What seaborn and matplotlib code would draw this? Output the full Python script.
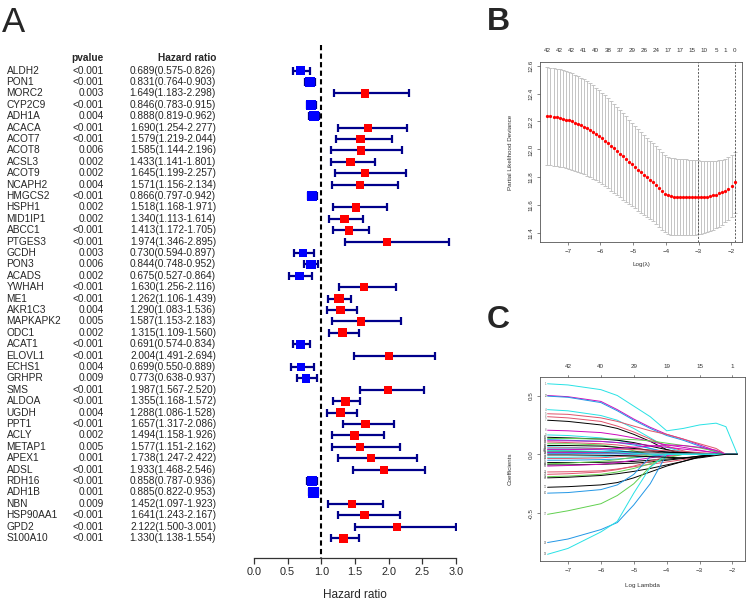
import numpy as np
import pandas as pd
import matplotlib
matplotlib.use("Agg")
import matplotlib.pyplot as plt
import matplotlib.transforms as mtrans
import seaborn as sns

sns.set_theme(style="white")
plt.rcParams['font.family'] = ['Liberation Sans', 'DejaVu Sans']

# ---------------- Panel A data ----------------
genes = ["ALDH2", "PON1", "MORC2", "CYP2C9", "ADH1A", "ACACA", "ACOT7", "ACOT8", "ACSL3", "ACOT9",
         "NCAPH2", "HMGCS2", "HSPH1", "MID1IP1", "ABCC1", "PTGES3", "GCDH", "PON3", "ACADS", "YWHAH",
         "ME1", "AKR1C3", "MAPKAPK2", "ODC1", "ACAT1", "ELOVL1", "ECHS1", "GRHPR", "SMS", "ALDOA",
         "UGDH", "PPT1", "ACLY", "METAP1", "APEX1", "ADSL", "RDH16", "ADH1B", "NBN", "HSP90AA1",
         "GPD2", "S100A10"]
pvals = ["<0.001", "<0.001", "0.003", "<0.001", "0.004", "<0.001", "<0.001", "0.006", "0.002", "0.002",
         "0.004", "<0.001", "0.002", "0.002", "<0.001", "<0.001", "0.003", "0.006", "0.002", "<0.001",
         "<0.001", "0.004", "0.005", "0.002", "<0.001", "<0.001", "0.004", "0.009", "<0.001", "<0.001",
         "0.004", "<0.001", "0.002", "0.005", "0.001", "<0.001", "<0.001", "0.001", "0.009", "<0.001",
         "<0.001", "<0.001"]
hr = [0.689, 0.831, 1.649, 0.846, 0.888, 1.690, 1.579, 1.585, 1.433, 1.645,
      1.571, 0.866, 1.518, 1.340, 1.413, 1.974, 0.730, 0.844, 0.675, 1.630,
      1.262, 1.290, 1.587, 1.315, 0.691, 2.004, 0.699, 0.773, 1.987, 1.355,
      1.288, 1.657, 1.494, 1.577, 1.738, 1.933, 0.858, 0.885, 1.452, 1.641,
      2.122, 1.330]
hr_lo = [0.575, 0.764, 1.183, 0.783, 0.819, 1.254, 1.219, 1.144, 1.141, 1.199,
         1.156, 0.797, 1.168, 1.113, 1.172, 1.346, 0.594, 0.748, 0.527, 1.256,
         1.106, 1.083, 1.153, 1.109, 0.574, 1.491, 0.550, 0.638, 1.567, 1.168,
         1.086, 1.317, 1.158, 1.151, 1.247, 1.468, 0.787, 0.822, 1.097, 1.243,
         1.500, 1.138]
hr_hi = [0.826, 0.903, 2.298, 0.915, 0.962, 2.277, 2.044, 2.196, 1.801, 2.257,
         2.134, 0.942, 1.971, 1.614, 1.705, 2.895, 0.897, 0.952, 0.864, 2.116,
         1.439, 1.536, 2.183, 1.560, 0.834, 2.694, 0.889, 0.937, 2.520, 1.572,
         1.528, 2.086, 1.926, 2.162, 2.422, 2.546, 0.936, 0.953, 1.923, 2.167,
         3.001, 1.554]
hr_ticks = [0.0, 0.5, 1.0, 1.5, 2.0, 2.5, 3.0]

# ---------------- Panel B data (cross-validation curve) ----------------
cv_loglam = [-7.620, -7.528, -7.435, -7.343, -7.251, -7.159, -7.066, -6.974, -6.882, -6.790,
             -6.697, -6.605, -6.513, -6.421, -6.328, -6.236, -6.144, -6.052, -5.959, -5.867,
             -5.775, -5.683, -5.590, -5.498, -5.406, -5.314, -5.221, -5.129, -5.037, -4.944,
             -4.852, -4.760, -4.668, -4.575, -4.483, -4.391, -4.299, -4.206, -4.114, -4.022,
             -3.930, -3.837, -3.745, -3.653, -3.561, -3.468, -3.376, -3.284, -3.192, -3.099,
             -3.007, -2.915, -2.823, -2.730, -2.638, -2.546, -2.453, -2.361, -2.269, -2.177,
             -2.084, -1.992, -1.900]
cv_mean = [12.238, 12.236, 12.233, 12.229, 12.225, 12.220, 12.214, 12.208, 12.200, 12.192,
           12.183, 12.173, 12.162, 12.150, 12.137, 12.124, 12.110, 12.095, 12.079, 12.062,
           12.044, 12.026, 12.007, 11.988, 11.969, 11.950, 11.931, 11.912, 11.893, 11.874,
           11.855, 11.836, 11.818, 11.800, 11.782, 11.764, 11.745, 11.725, 11.703, 11.684,
           11.671, 11.664, 11.661, 11.660, 11.659, 11.659, 11.658, 11.658, 11.657, 11.657,
           11.657, 11.658, 11.659, 11.662, 11.666, 11.671, 11.677, 11.685, 11.695, 11.706,
           11.720, 11.738, 11.765]
cv_se = [0.350, 0.350, 0.349, 0.349, 0.348, 0.347, 0.346, 0.345, 0.344, 0.343,
         0.342, 0.341, 0.340, 0.338, 0.336, 0.334, 0.332, 0.330, 0.328, 0.326,
         0.323, 0.320, 0.317, 0.314, 0.311, 0.308, 0.305, 0.302, 0.299, 0.296,
         0.293, 0.290, 0.287, 0.284, 0.281, 0.279, 0.278, 0.277, 0.277, 0.277,
         0.277, 0.276, 0.276, 0.275, 0.274, 0.273, 0.272, 0.270, 0.268, 0.266,
         0.264, 0.261, 0.258, 0.254, 0.250, 0.246, 0.242, 0.237, 0.232, 0.228,
         0.224, 0.221, 0.220]
cv_top_idx = [0, 4, 8, 12, 16, 20, 24, 28, 32, 36, 40, 44, 48, 52, 56, 59, 62]
cv_top_lab = ["42", "42", "42", "41", "40", "38", "37", "29", "26", "24", "17", "17", "15", "10", "5", "1", "0"]
lambda_min_idx = 50
lambda_1se_idx = 62

# ---------------- Panel C data (coefficient paths) ----------------
path_loglam = [-7.62, -7.0, -6.0, -5.5, -5.0, -4.5, -4.0, -3.5, -3.0, -2.5, -2.2, -1.85]
paths = [
    [0.600, 0.590, 0.550, 0.500, 0.410, 0.320, 0.200, 0.220, 0.250, 0.265, 0.235, 0.0],
    [0.500, 0.490, 0.450, 0.380, 0.300, 0.230, 0.170, 0.130, 0.080, 0.030, 0.0, 0.0],
    [0.495, 0.485, 0.440, 0.370, 0.290, 0.220, 0.160, 0.120, 0.070, 0.020, 0.0, 0.0],
    [0.380, 0.370, 0.330, 0.290, 0.220, 0.140, 0.060, 0.020, 0.0, 0.0, 0.0, 0.0],
    [0.345, 0.340, 0.310, 0.280, 0.240, 0.200, 0.170, 0.130, 0.090, 0.050, 0.0, 0.0],
    [0.320, 0.310, 0.280, 0.240, 0.190, 0.130, 0.070, 0.030, 0.0, 0.0, 0.0, 0.0],
    [0.290, 0.280, 0.250, 0.220, 0.170, 0.110, 0.040, 0.0, 0.0, 0.0, 0.0, 0.0],
    [0.205, 0.200, 0.185, 0.165, 0.140, 0.110, 0.080, 0.060, 0.035, 0.012, 0.0, 0.0],
    [0.165, 0.160, 0.140, 0.120, 0.090, 0.050, 0.010, 0.0, 0.0, 0.0, 0.0, 0.0],
    [0.145, 0.140, 0.130, 0.120, 0.100, 0.070, 0.040, 0.015, 0.0, 0.0, 0.0, 0.0],
    [0.135, 0.135, 0.130, 0.130, 0.125, 0.115, 0.095, 0.075, 0.055, 0.025, 0.0, 0.0],
    [0.125, 0.120, 0.110, 0.100, 0.080, 0.050, 0.020, 0.0, 0.0, 0.0, 0.0, 0.0],
    [0.115, 0.115, 0.110, 0.100, 0.090, 0.075, 0.060, 0.045, 0.030, 0.015, 0.0, 0.0],
    [0.105, 0.100, 0.090, 0.080, 0.060, 0.030, 0.0, 0.0, 0.0, 0.0, 0.0, 0.0],
    [0.090, 0.090, 0.080, 0.060, 0.030, 0.0, 0.0, 0.0, 0.0, 0.0, 0.0, 0.0],
    [0.075, 0.075, 0.070, 0.060, 0.050, 0.035, 0.020, 0.010, 0.0, 0.0, 0.0, 0.0],
    [0.065, 0.060, 0.050, 0.035, 0.015, 0.0, 0.0, 0.0, 0.0, 0.0, 0.0, 0.0],
    [0.055, 0.055, 0.050, 0.045, 0.040, 0.035, 0.030, 0.025, 0.015, 0.005, 0.0, 0.0],
    [0.045, 0.045, 0.040, 0.030, 0.015, 0.0, 0.0, 0.0, 0.0, 0.0, 0.0, 0.0],
    [0.035, 0.030, 0.020, 0.010, 0.0, 0.0, 0.0, 0.0, 0.0, 0.0, 0.0, 0.0],
    [0.020, 0.020, 0.020, 0.020, 0.020, 0.020, 0.018, 0.015, 0.008, 0.0, 0.0, 0.0],
    [0.015, 0.015, 0.012, 0.010, 0.005, 0.0, 0.0, 0.0, 0.0, 0.0, 0.0, 0.0],
    [0.008, 0.008, 0.006, 0.004, 0.0, 0.0, 0.0, 0.0, 0.0, 0.0, 0.0, 0.0],
    [-0.025, -0.025, -0.020, -0.015, -0.005, 0.0, 0.0, 0.0, 0.0, 0.0, 0.0, 0.0],
    [-0.035, -0.035, -0.030, -0.020, -0.010, 0.0, 0.0, 0.0, 0.0, 0.0, 0.0, 0.0],
    [-0.050, -0.050, -0.045, -0.040, -0.030, -0.015, 0.0, 0.0, 0.0, 0.0, 0.0, 0.0],
    [-0.070, -0.070, -0.068, -0.065, -0.060, -0.050, -0.040, -0.030, -0.015, 0.0, 0.0, 0.0],
    [-0.080, -0.075, -0.060, -0.045, -0.025, -0.005, 0.0, 0.0, 0.0, 0.0, 0.0, 0.0],
    [-0.090, -0.090, -0.085, -0.080, -0.075, -0.065, -0.050, -0.035, -0.015, 0.0, 0.0, 0.0],
    [-0.100, -0.095, -0.085, -0.070, -0.050, -0.030, -0.010, 0.0, 0.0, 0.0, 0.0, 0.0],
    [-0.150, -0.148, -0.140, -0.125, -0.105, -0.085, -0.065, -0.045, -0.025, -0.005, 0.0, 0.0],
    [-0.170, -0.165, -0.150, -0.130, -0.100, -0.060, -0.020, 0.0, 0.0, 0.0, 0.0, 0.0],
    [-0.190, -0.185, -0.170, -0.150, -0.120, -0.080, -0.030, 0.0, 0.0, 0.0, 0.0, 0.0],
    [-0.200, -0.195, -0.180, -0.165, -0.145, -0.120, -0.090, -0.060, -0.025, 0.0, 0.0, 0.0],
    [-0.280, -0.275, -0.260, -0.240, -0.200, -0.150, -0.100, -0.060, -0.020, 0.0, 0.0, 0.0],
    [-0.330, -0.325, -0.300, -0.260, -0.170, -0.020, 0.0, 0.0, 0.0, 0.0, 0.0, 0.0],
    [-0.510, -0.480, -0.420, -0.350, -0.250, -0.105, 0.0, 0.0, 0.0, 0.0, 0.0, 0.0],
    [-0.750, -0.720, -0.640, -0.580, -0.430, -0.250, 0.0, 0.0, 0.0, 0.0, 0.0, 0.0],
    [-0.850, -0.800, -0.660, -0.570, -0.330, -0.110, 0.0, 0.0, 0.0, 0.0, 0.0, 0.0],
    [0.040, 0.040, 0.045, 0.050, 0.060, 0.070, 0.080, 0.075, 0.060, 0.035, 0.0, 0.0],
    [0.030, 0.030, 0.025, 0.020, 0.010, 0.0, 0.0, 0.0, 0.0, 0.0, 0.0, 0.0],
    [-0.005, -0.005, -0.008, -0.010, -0.015, -0.020, -0.025, -0.030, -0.030, -0.010, 0.0, 0.0],
]
path_colour_idx = [4, 5, 3, 4, 1, 1, 0, 5, 4, 0, 2, 3, 5, 1, 2, 0, 4, 1, 3, 2, 0,
                   5, 3, 4, 1, 3, 0, 2, 0, 5, 1, 1, 2, 0, 0, 3, 2, 3, 4, 5, 4, 0]
coef_top_pos = [-7, -6, -5, -4, -3, -2]
coef_top_lab = ["42", "40", "29", "19", "15", "1"]

r_palette = ["#000000", "#DF536B", "#61D04F", "#2297E6", "#28E2E5", "#CD0BBC"]

# ---------------- Figure ----------------
W, H = 748, 602
fig = plt.figure(figsize=(W / 100, H / 100), dpi=100)


def px_axes(x0, y0, x1, y1):
    return fig.add_axes([x0 / W, 1 - y1 / H, (x1 - x0) / W, (y1 - y0) / H])


# row geometry for panel A
row0_px, row_step = 70.7, 11.4
top_px, bot_px = 40.0, 558.0
ylim_rows = ((bot_px - row0_px) / row_step, (top_px - row0_px) / row_step)
rows = np.arange(len(genes))

# --- table
axT = px_axes(0, top_px, 254, bot_px)
axT.set_xlim(0, 254)
axT.set_ylim(*ylim_rows)
axT.axis("off")
fs_tab = 7.3
header_row = (58.3 - row0_px) / row_step
axT.text(104, header_row, "pvalue", ha="right", va="center", fontsize=fs_tab, fontweight="bold")
axT.text(216, header_row, "Hazard ratio", ha="right", va="center", fontsize=fs_tab, fontweight="bold")
for r, g, p, h, l, u in zip(rows, genes, pvals, hr, hr_lo, hr_hi):
    axT.text(6.5, r, g, ha="left", va="center", fontsize=fs_tab)
    axT.text(104, r, p, ha="right", va="center", fontsize=fs_tab)
    axT.text(216, r, f"{h:.3f}({l:.3f}-{u:.3f})", ha="right", va="center", fontsize=fs_tab)

# --- forest
axF = px_axes(254, top_px, 456, bot_px)
axF.set_xlim(0, 3)
axF.set_ylim(*ylim_rows)
hr_a = np.array(hr)
lo_a = np.array(hr_lo)
hi_a = np.array(hr_hi)
axF.plot([1, 1], [(45 - row0_px) / row_step, ylim_rows[0]], color="black", lw=1.5,
         ls=(0, (2.5, 1.6)), zorder=1)
axF.errorbar(hr_a, rows, xerr=[hr_a - lo_a, hi_a - hr_a], fmt="none", ecolor="#00008B",
             elinewidth=1.6, capsize=2.6, capthick=1.6, zorder=2)
side_px = np.clip(7.5 + 0.45 / np.log(hi_a / lo_a), 8.0, 11.0)
dfF = pd.DataFrame({"hr": hr_a, "row": rows, "risk": np.where(hr_a < 1, "low", "high")})
sns.scatterplot(data=dfF, x="hr", y="row", hue="risk", palette={"low": "#0000FF", "high": "#FF0000"},
                marker="s", s=(side_px * 0.72) ** 2, linewidth=0, legend=False, ax=axF, zorder=3)
for s in ["top", "left", "right"]:
    axF.spines[s].set_visible(False)
axF.spines["bottom"].set_color("#333333")
axF.spines["bottom"].set_linewidth(0.9)
axF.set_xticks(hr_ticks)
axF.set_xticklabels([f"{t:.1f}" for t in hr_ticks])
axF.set_yticks([])
axF.tick_params(axis="x", direction="out", length=4.3, width=0.9, color="#333333",
                labelsize=7.8, pad=2, bottom=True)
axF.set_xlabel("Hazard ratio", fontsize=8.5)
axF.xaxis.set_label_coords(0.5, -(589 - bot_px) / (bot_px - top_px))
axF.set_ylabel("")

fig.text(2 / W, 1 - 31.7 / H, "A", fontsize=25, ha="left", va="baseline")


def r_style(ax):
    for s in ax.spines.values():
        s.set_visible(True)
        s.set_color("#555555")
        s.set_linewidth(0.6)
    ax.tick_params(direction="out", length=2.2, width=0.5, color="#555555",
                   labelsize=4.5, pad=2.5, bottom=True, left=True, labelcolor="#333333")
    for lab in ax.get_yticklabels():
        lab.set_rotation(90)
        lab.set_va("center")


# --- panel B
axB = px_axes(540, 61.5, 742, 242.3)
xB = np.array(cv_loglam)
mB = np.array(cv_mean)
sB = np.array(cv_se)
axB.errorbar(xB, mB, yerr=sB, fmt="none", ecolor="#C4C4C4", elinewidth=0.7, capsize=1.3,
             capthick=0.7, zorder=1)
sns.scatterplot(x=xB, y=mB, color="red", s=5.5, linewidth=0, ax=axB, zorder=3)
for i in (lambda_min_idx, lambda_1se_idx):
    axB.axvline(xB[i], color="#444444", lw=0.6, ls=(0, (2.5, 1.8)), zorder=2)
axB.set_xlim(-7.849, -1.671)
axB.set_ylim(11.336, 12.629)
axB.set_xticks([-7, -6, -5, -4, -3, -2])
axB.set_yticks([11.4, 11.6, 11.8, 12.0, 12.2, 12.4, 12.6])
axB.set_yticklabels(["11.4", "11.6", "11.8", "12.0", "12.2", "12.4", "12.6"])
r_style(axB)
trB = mtrans.blended_transform_factory(axB.transData, axB.transAxes)
for i, lab in zip(cv_top_idx, cv_top_lab):
    axB.text(xB[i], 1 + (61.5 - 51) / 180.8, lab, transform=trB, ha="center", va="center",
             fontsize=4.5, color="#333333")
axB.set_xlabel("Log(\u03bb)", fontsize=4.5, color="#333333")
axB.xaxis.set_label_coords(0.5, -(262 - 242.3) / 180.8)
axB.set_ylabel("Partial Likelihood Deviance", fontsize=4.5, color="#333333")
axB.yaxis.set_label_coords(-(540 - 513) / 202, 0.5)
fig.text(487 / W, 1 - 30 / H, "B", fontsize=23, fontweight="bold", ha="left", va="baseline")

# --- panel C
axC = px_axes(540, 377.3, 745, 561)
long = []
for j, vals in enumerate(paths):
    for x, v in zip(path_loglam, vals):
        long.append({"loglam": x, "coef": v, "var": f"v{j + 1}"})
dfC = pd.DataFrame(long)
pal = {f"v{j + 1}": r_palette[c] for j, c in enumerate(path_colour_idx)}
sns.lineplot(data=dfC, x="loglam", y="coef", hue="var", palette=pal, estimator=None,
             sort=False, lw=0.7, legend=False, ax=axC)
for j, vals in enumerate(paths):
    axC.text(path_loglam[0] - 0.03, vals[0], str(j + 1), ha="right", va="center",
             fontsize=2.0, color="#666666")
axC.set_xlim(-7.85, -1.62)
axC.set_ylim(-0.907, 0.655)
axC.set_xticks([-7, -6, -5, -4, -3, -2])
axC.set_yticks([-0.5, 0.0, 0.5])
axC.set_yticklabels(["-0.5", "0.0", "0.5"])
r_style(axC)
trC = mtrans.blended_transform_factory(axC.transData, axC.transAxes)
for x, lab in zip(coef_top_pos, coef_top_lab):
    axC.plot([x, x], [1.0, 1.012], transform=trC, color="#555555", lw=0.5, clip_on=False)
    axC.text(x, 1 + (377.3 - 366.7) / 183.7, lab, transform=trC, ha="center", va="center",
             fontsize=4.5, color="#333333")
axC.set_xlabel("Log Lambda", fontsize=4.5, color="#333333")
axC.xaxis.set_label_coords(0.5, -(583 - 561) / 183.7)
axC.set_ylabel("Coefficients", fontsize=4.5, color="#333333")
axC.yaxis.set_label_coords(-(540 - 513) / 205, 0.5)
fig.text(487 / W, 1 - 328 / H, "C", fontsize=23, fontweight="bold", ha="left", va="baseline")

fig.savefig("out.png", dpi=100)
